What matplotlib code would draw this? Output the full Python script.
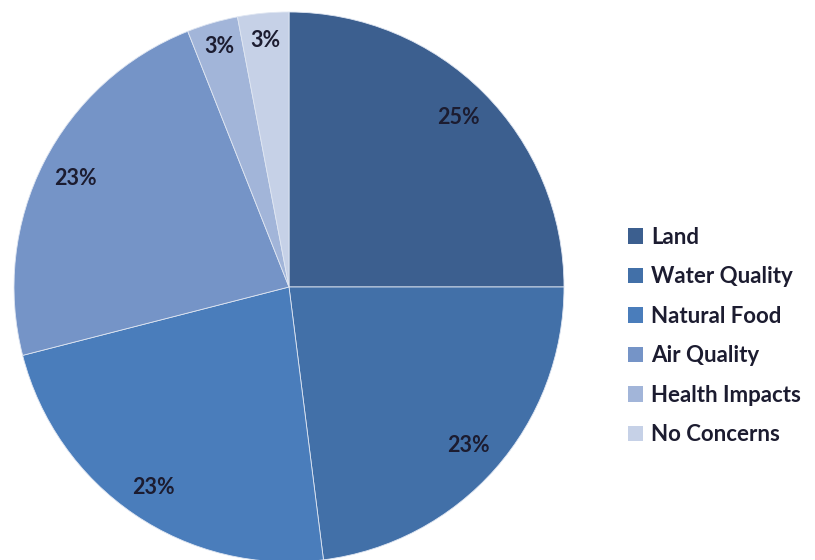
import matplotlib
matplotlib.use("Agg")
import matplotlib.pyplot as plt
from matplotlib.patches import Patch

categories = ["Land", "Water Quality", "Natural Food", "Air Quality", "Health Impacts", "No Concerns"]
shares = [25, 23, 23, 23, 3, 3]
colors = ["#3c5f8f", "#4270a8", "#4a7dbb", "#7594c7", "#a2b5d9", "#c6d1e7"]
label_dist = [0.87, 0.87, 0.88, 0.87, 0.91, 0.90]
text_color = "#1c1c30"
font = ["Lato", "DejaVu Sans"]

fig = plt.figure(figsize=(8.15, 5.6), dpi=100)
W, H = 815, 560
cx, cy, r = 289, 287, 275
ax = fig.add_axes([(cx - r) / W, (H - cy - r) / H, 2 * r / W, 2 * r / H])
ax.axis("off")

_, _, autotexts = ax.pie(shares, colors=colors, startangle=90, counterclock=False,
                         radius=1, autopct="%.0f%%", pctdistance=1.0,
                         wedgeprops=dict(edgecolor="#dfe6f2", linewidth=0.6))
for t, d in zip(autotexts, label_dist):
    x, y = t.get_position()
    t.set_position((x * d, y * d))
    t.set_fontfamily(font)
    t.set_fontweight("bold")
    t.set_fontsize(15.5)
    t.set_color(text_color)

ax.set_xlim(-1, 1)
ax.set_ylim(-1, 1)
ax.set_aspect("equal")

handles = [Patch(facecolor=c, edgecolor="none") for c in colors]
leg = fig.legend(handles, categories, loc="center left",
                 bbox_to_anchor=(617 / W, 1 - 336 / H), frameon=False,
                 prop=dict(family=font, weight="bold", size=16),
                 handlelength=0.68, handleheight=0.68, handletextpad=0.35,
                 labelspacing=0.83, labelcolor=text_color, borderpad=0)

fig.savefig("out.png", dpi=100, facecolor="white")
